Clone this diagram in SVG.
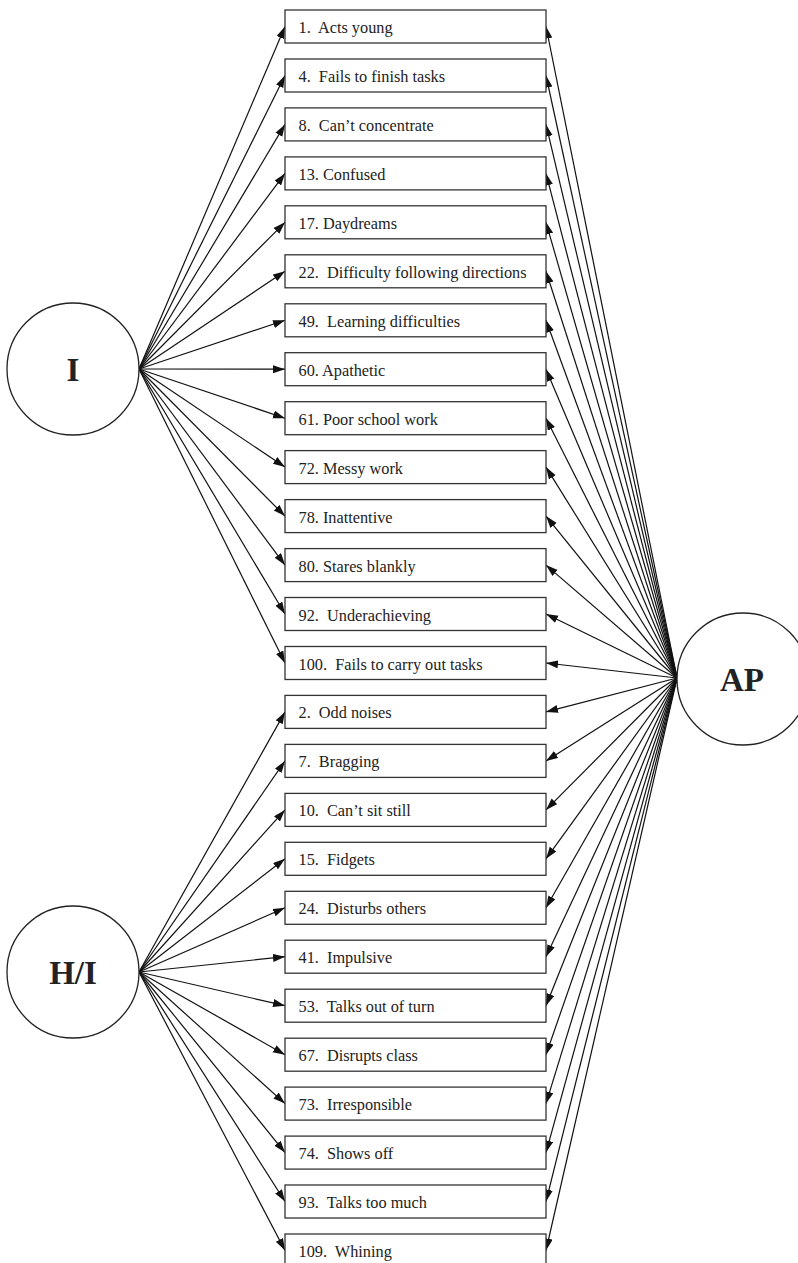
<svg xmlns="http://www.w3.org/2000/svg" width="798" height="1263" viewBox="0 0 798 1263" xml:space="preserve">
<style>
.box{fill:#fff;stroke:#333;stroke-width:1.3}
.lbl{font-family:"Liberation Serif","Times New Roman",serif;font-size:16.3px;fill:#222;white-space:pre}
.circ{fill:#fff;stroke:#222;stroke-width:1.3}
.big{font-family:"Liberation Serif","Times New Roman",serif;font-size:33px;font-weight:bold;fill:#222;text-anchor:middle}
.edge{stroke:#111;stroke-width:1.2;fill:none;marker-end:url(#ah)}
</style>
<defs>
<marker id="ah" markerUnits="userSpaceOnUse" markerWidth="13" markerHeight="9" refX="12" refY="4" orient="auto"><path d="M0,0 L12,4 L0,8 z" fill="#111"/></marker>
</defs>
<rect width="798" height="1263" fill="#fff"/>
<g id="connectors">
<path class="edge" d="M139,369 L285,26.5"/>
<path class="edge" d="M139,369 L285,75.5"/>
<path class="edge" d="M139,369 L285,124.4"/>
<path class="edge" d="M139,369 L285,173.4"/>
<path class="edge" d="M139,369 L285,222.3"/>
<path class="edge" d="M139,369 L285,271.3"/>
<path class="edge" d="M139,369 L285,320.3"/>
<path class="edge" d="M139,369 L285,369.2"/>
<path class="edge" d="M139,369 L285,418.2"/>
<path class="edge" d="M139,369 L285,467.1"/>
<path class="edge" d="M139,369 L285,516.1"/>
<path class="edge" d="M139,369 L285,565.1"/>
<path class="edge" d="M139,369 L285,614"/>
<path class="edge" d="M139,369 L285,663"/>
<path class="edge" d="M139,972 L285,711.9"/>
<path class="edge" d="M139,972 L285,760.9"/>
<path class="edge" d="M139,972 L285,809.9"/>
<path class="edge" d="M139,972 L285,858.8"/>
<path class="edge" d="M139,972 L285,907.8"/>
<path class="edge" d="M139,972 L285,956.7"/>
<path class="edge" d="M139,972 L285,1005.7"/>
<path class="edge" d="M139,972 L285,1054.7"/>
<path class="edge" d="M139,972 L285,1103.6"/>
<path class="edge" d="M139,972 L285,1152.6"/>
<path class="edge" d="M139,972 L285,1201.5"/>
<path class="edge" d="M139,972 L285,1250.5"/>
<path class="edge" d="M677,678 L546,26.5"/>
<path class="edge" d="M677,678 L546,75.5"/>
<path class="edge" d="M677,678 L546,124.4"/>
<path class="edge" d="M677,678 L546,173.4"/>
<path class="edge" d="M677,678 L546,222.3"/>
<path class="edge" d="M677,678 L546,271.3"/>
<path class="edge" d="M677,678 L546,320.3"/>
<path class="edge" d="M677,678 L546,369.2"/>
<path class="edge" d="M677,678 L546,418.2"/>
<path class="edge" d="M677,678 L546,467.1"/>
<path class="edge" d="M677,678 L546,516.1"/>
<path class="edge" d="M677,678 L546,565.1"/>
<path class="edge" d="M677,678 L546,614"/>
<path class="edge" d="M677,678 L546,663"/>
<path class="edge" d="M677,678 L546,711.9"/>
<path class="edge" d="M677,678 L546,760.9"/>
<path class="edge" d="M677,678 L546,809.9"/>
<path class="edge" d="M677,678 L546,858.8"/>
<path class="edge" d="M677,678 L546,907.8"/>
<path class="edge" d="M677,678 L546,956.7"/>
<path class="edge" d="M677,678 L546,1005.7"/>
<path class="edge" d="M677,678 L546,1054.7"/>
<path class="edge" d="M677,678 L546,1103.6"/>
<path class="edge" d="M677,678 L546,1152.6"/>
<path class="edge" d="M677,678 L546,1201.5"/>
<path class="edge" d="M677,678 L546,1250.5"/>
</g>
<g id="I"><circle class="circ" cx="73" cy="369" r="66"/><text class="big" x="73" y="381">I</text></g>
<g id="HI"><circle class="circ" cx="73" cy="972" r="66"/><text class="big" x="73" y="984">H/I</text></g>
<g id="AP"><circle class="circ" cx="743" cy="679" r="66"/><text class="big" x="742" y="691">AP</text></g>
<g id="b1"><rect class="box" x="285" y="10" width="261" height="33"/><text class="lbl" x="298.5" y="33">1.  Acts young</text></g>
<g id="b4"><rect class="box" x="285" y="59" width="261" height="33"/><text class="lbl" x="298.5" y="82">4.  Fails to finish tasks</text></g>
<g id="b8"><rect class="box" x="285" y="107.9" width="261" height="33"/><text class="lbl" x="298.5" y="130.9">8.  Can’t concentrate</text></g>
<g id="b13"><rect class="box" x="285" y="156.9" width="261" height="33"/><text class="lbl" x="298.5" y="179.9">13. Confused</text></g>
<g id="b17"><rect class="box" x="285" y="205.8" width="261" height="33"/><text class="lbl" x="298.5" y="228.8">17. Daydreams</text></g>
<g id="b22"><rect class="box" x="285" y="254.8" width="261" height="33"/><text class="lbl" x="298.5" y="277.8">22.  Difficulty following directions</text></g>
<g id="b49"><rect class="box" x="285" y="303.8" width="261" height="33"/><text class="lbl" x="298.5" y="326.8">49.  Learning difficulties</text></g>
<g id="b60"><rect class="box" x="285" y="352.7" width="261" height="33"/><text class="lbl" x="298.5" y="375.7">60. Apathetic</text></g>
<g id="b61"><rect class="box" x="285" y="401.7" width="261" height="33"/><text class="lbl" x="298.5" y="424.7">61. Poor school work</text></g>
<g id="b72"><rect class="box" x="285" y="450.6" width="261" height="33"/><text class="lbl" x="298.5" y="473.6">72. Messy work</text></g>
<g id="b78"><rect class="box" x="285" y="499.6" width="261" height="33"/><text class="lbl" x="298.5" y="522.6">78. Inattentive</text></g>
<g id="b80"><rect class="box" x="285" y="548.6" width="261" height="33"/><text class="lbl" x="298.5" y="571.6">80. Stares blankly</text></g>
<g id="b92"><rect class="box" x="285" y="597.5" width="261" height="33"/><text class="lbl" x="298.5" y="620.5">92.  Underachieving</text></g>
<g id="b100"><rect class="box" x="285" y="646.5" width="261" height="33"/><text class="lbl" x="298.5" y="669.5">100.  Fails to carry out tasks</text></g>
<g id="b2"><rect class="box" x="285" y="695.4" width="261" height="33"/><text class="lbl" x="298.5" y="718.4">2.  Odd noises</text></g>
<g id="b7"><rect class="box" x="285" y="744.4" width="261" height="33"/><text class="lbl" x="298.5" y="767.4">7.  Bragging</text></g>
<g id="b10"><rect class="box" x="285" y="793.4" width="261" height="33"/><text class="lbl" x="298.5" y="816.4">10.  Can’t sit still</text></g>
<g id="b15"><rect class="box" x="285" y="842.3" width="261" height="33"/><text class="lbl" x="298.5" y="865.3">15.  Fidgets</text></g>
<g id="b24"><rect class="box" x="285" y="891.3" width="261" height="33"/><text class="lbl" x="298.5" y="914.3">24.  Disturbs others</text></g>
<g id="b41"><rect class="box" x="285" y="940.2" width="261" height="33"/><text class="lbl" x="298.5" y="963.2">41.  Impulsive</text></g>
<g id="b53"><rect class="box" x="285" y="989.2" width="261" height="33"/><text class="lbl" x="298.5" y="1012.2">53.  Talks out of turn</text></g>
<g id="b67"><rect class="box" x="285" y="1038.2" width="261" height="33"/><text class="lbl" x="298.5" y="1061.2">67.  Disrupts class</text></g>
<g id="b73"><rect class="box" x="285" y="1087.1" width="261" height="33"/><text class="lbl" x="298.5" y="1110.1">73.  Irresponsible</text></g>
<g id="b74"><rect class="box" x="285" y="1136.1" width="261" height="33"/><text class="lbl" x="298.5" y="1159.1">74.  Shows off</text></g>
<g id="b93"><rect class="box" x="285" y="1185" width="261" height="33"/><text class="lbl" x="298.5" y="1208">93.  Talks too much</text></g>
<g id="b109"><rect class="box" x="285" y="1234" width="261" height="33"/><text class="lbl" x="298.5" y="1257">109.  Whining</text></g>
</svg>
